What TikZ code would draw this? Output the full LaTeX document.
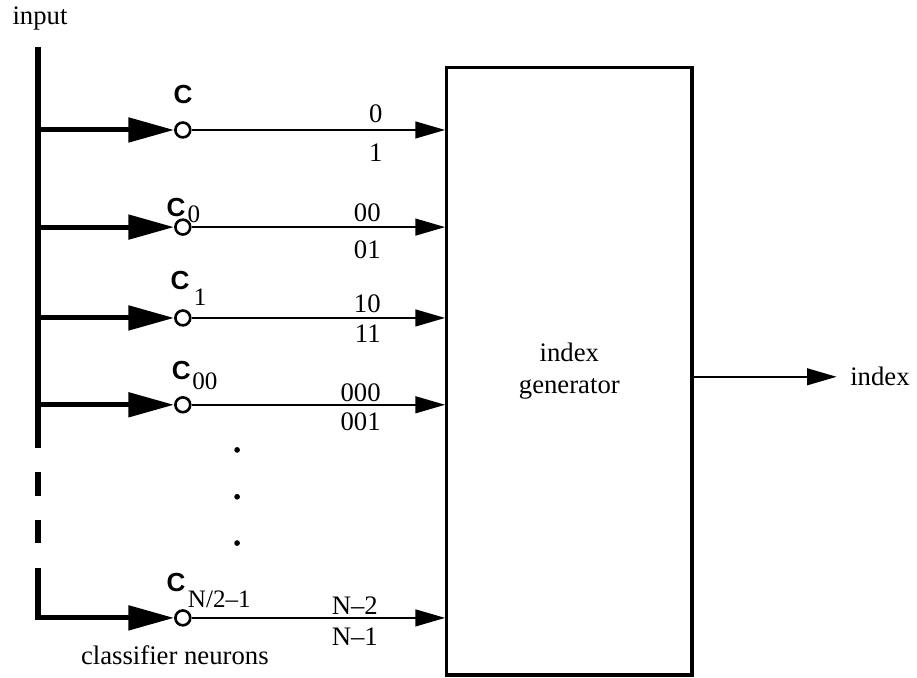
\documentclass[tikz,border=0pt]{standalone}
\usepackage{fontspec}
\setmainfont{Liberation Serif}
\newfontfamily\helv{Liberation Sans}
\usepackage{tikz}
\usetikzlibrary{positioning, arrows.meta, calc}

\newcommand{\cname}[3]{{\helv\bfseries\fontsize{13}{15}\selectfont C}\hspace{#1}\raisebox{-#2}{\fontsize{12.5}{14}\selectfont #3}}

\tikzset{
  bus/.style={line width=2.5pt},
  inarrow/.style={line width=2.5pt, -{Triangle[length=0.80cm, width=0.42cm]}},
  outarrow/.style={line width=1.2pt, -{Triangle[length=0.52cm, width=0.29cm]}},
  neuron/.style={circle, draw, line width=1.3pt, minimum size=0.26cm, inner sep=0pt},
  bitlab/.style={inner sep=0pt},
  clab/.style={anchor=base west, inner sep=0pt},
}

\begin{document}
\begin{tikzpicture}[font=\fontsize{13.3}{16}\selectfont]
    \useasboundingbox (0,0) rectangle (16.05,11.865);
    % input bus
    \coordinate (bt) at (0.665,11.04);
    \coordinate (b1) at (0.665,9.59);
    \coordinate (b2) at (0.665,7.89);
    \coordinate (b3) at (0.665,6.30);
    \coordinate (b4) at (0.665,4.78);
    \coordinate (b5) at (0.665,1.05);
    \node[anchor=base] (inp) at (0.70,11.43) {input};
    % classifier neurons
    \node[neuron] (c1) at (3.20,9.59) {};
    \node[neuron] (c2) at (3.20,7.89) {};
    \node[neuron] (c3) at (3.20,6.30) {};
    \node[neuron] (c4) at (3.20,4.78) {};
    \node[neuron] (c5) at (3.20,1.05) {};
    \node[anchor=base] (cls) at (3.06,0.2275) {classifier neurons};
    \node[clab] (n1) at (3.03,10.06) {\cname{0pt}{0pt}{}};
    \node[clab] (n2) at (2.91,8.07) {\cname{1pt}{3pt}{0}};
    \node[clab] (n3) at (2.98,6.79) {\cname{2.2pt}{7.5pt}{1}};
    \node[clab] (n4) at (3.00,5.215) {\cname{0.8pt}{5pt}{00}};
    \node[clab] (n5) at (2.91,1.505) {\cname{1.2pt}{8pt}{N/2--1}};
    % generator
    \node[draw, line width=1.6pt, minimum width=4.29cm, minimum height=10.64cm, align=center] (gen) at (9.965,5.37) {index\\generator};
    \node[anchor=west, inner sep=0pt] (idx) at (14.875,5.27) {index};
    \draw[outarrow, shorten >=0.23cm] (gen.east |- idx.west) -- (idx.west);
    % bus lines
    \draw[bus] (bt) -- (0.665,4.03);
    \draw[bus] (0.665,3.61) -- (0.665,3.19);
    \draw[bus] (0.665,2.77) -- (0.665,2.36);
    \draw[inarrow] (0.665,1.93) -- (b5) -- (c5);
    \draw[inarrow] (b1) -- (c1);
    \draw[inarrow] (b2) -- (c2);
    \draw[inarrow] (b3) -- (c3);
    \draw[inarrow] (b4) -- (c4);
    % outputs
    \draw[outarrow] (c1) -- (c1 -| gen.west);
    \draw[outarrow] (c2) -- (c2 -| gen.west);
    \draw[outarrow] (c3) -- (c3 -| gen.west);
    \draw[outarrow] (c4) -- (c4 -| gen.west);
    \draw[outarrow] (c5) -- (c5 -| gen.west);
    \node[bitlab, anchor=south east] (u1) at (6.70,9.71) {0};
    \node[bitlab, anchor=north east] (l1) at (6.70,9.36) {1};
    \node[bitlab, anchor=south east] (u2) at (6.67,7.98) {00};
    \node[bitlab, anchor=north east] (l2) at (6.67,7.66) {01};
    \node[bitlab, anchor=south east] (u3) at (6.67,6.39) {10};
    \node[bitlab, anchor=north east] (l3) at (6.67,6.18) {11};
    \node[bitlab, anchor=south east] (u4) at (6.67,4.83) {000};
    \node[bitlab, anchor=north east] (l4) at (6.67,4.64) {001};
    \node[bitlab, anchor=south east] (u5) at (6.62,1.10) {N--2};
    \node[bitlab, anchor=north east] (l5) at (6.62,0.875) {N--1};
    % dots
    \fill (4.15,3.99) circle (0.05);
    \fill (4.15,3.17) circle (0.05);
    \fill (4.15,2.36) circle (0.05);
\end{tikzpicture}
\end{document}
